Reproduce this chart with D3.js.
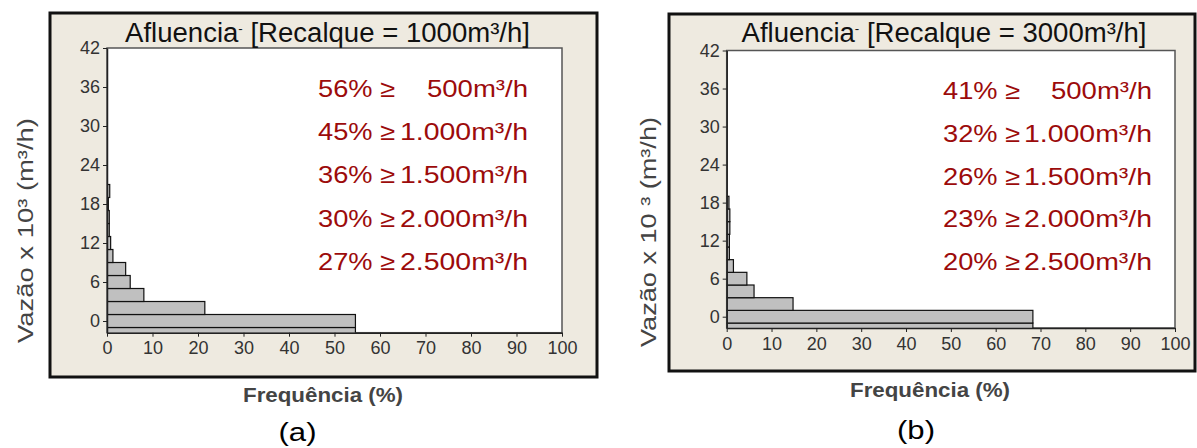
<!DOCTYPE html>
<html><head><meta charset="utf-8">
<script src="https://cdn.jsdelivr.net/npm/d3@7"></script>
<style>
html,body{margin:0;padding:0;background:#fff;}
svg{display:block;}
text{font-family:"Liberation Sans",Arial,sans-serif;}
</style></head>
<body>
<svg id="chart" width="1197" height="448"></svg>
<script>
// ---- data ----
const binCenters = [-2, 0, 2, 4, 6, 8, 10, 12, 14, 16, 18, 20];
const freqA = [54.6, 54.6, 21.5, 8.1, 5.1, 4.1, 1.3, 0.8, 0.5, 0.5, 0.3, 0.6];
const freqB = [68.3, 68.3, 14.8, 6.1, 4.5, 1.5, 0.6, 0.6, 0.7, 0.7, 0.5, 0];
const yTicks = [0, 6, 12, 18, 24, 30, 36, 42];
const xTicks = [0, 10, 20, 30, 40, 50, 60, 70, 80, 90, 100];
const titleA = "1000";
const titleB = "3000";
const pctA = ["56%", "45%", "36%", "30%", "27%"];
const pctB = ["41%", "32%", "26%", "23%", "20%"];
const thresholds = ["500m³/h", "1.000m³/h", "1.500m³/h", "2.000m³/h", "2.500m³/h"];
const yLabelA = "Vazão x 10³ (m³/h)";
const yLabelB = "Vazão x 10 ³ (m³/h)";
const xLabel = "Frequência (%)";

const svg = d3.select("#chart");
const defs = svg.append("defs");

const panels = [
  {id:"a", freq:freqA, rec:titleA, pct:pctA, ylab:yLabelA, tag:"(a)",
   box:{x:50,y:13,w:547,h:364}, px0:107, px1:562, py42:48, py0:321, pyb:332.7,
   titleX:327.5, titleY:42, titleW:405,
   annX0:318, annX1:528, annY0:96.5, annDy:43.4,
   ylabX:33, ylabY:230.5, ylabW:225, xlabX:323, xlabY:402, tagX:297.5, tagY:441},
  {id:"b", freq:freqB, rec:titleB, pct:pctB, ylab:yLabelB, tag:"(b)",
   box:{x:669,y:14,w:526,h:357}, px0:726.7, px1:1175, py42:50.5, py0:316.7, pyb:328,
   titleX:944, titleY:42, titleW:405,
   annX0:943, annX1:1152, annY0:99, annDy:42.8,
   ylabX:656, ylabY:232, ylabW:230, xlabX:930, xlabY:397, tagX:916, tagY:439}
];

panels.forEach(p => {
  const g = svg.append("g");
  g.append("rect").attr("x",p.box.x).attr("y",p.box.y).attr("width",p.box.w).attr("height",p.box.h)
    .attr("fill","#eeeae0").attr("stroke","#111").attr("stroke-width",3);

  const x = d3.scaleLinear().domain([0,100]).range([p.px0,p.px1]);
  const unit = (p.py0 - p.py42)/42;
  const yMin = -(p.pyb - p.py0)/unit;
  const y = d3.scaleLinear().domain([yMin,42]).range([p.pyb,p.py42]);

  g.append("rect").attr("x",x(0)).attr("y",y(42)).attr("width",x(100)-x(0)).attr("height",y(yMin)-y(42))
    .attr("fill","#fff").attr("stroke","#555").attr("stroke-width",1.5);

  defs.append("clipPath").attr("id","clip"+p.id).append("rect")
    .attr("x",x(0)).attr("y",y(42)).attr("width",x(100)-x(0)).attr("height",y(yMin)-y(42));

  g.append("g").attr("clip-path","url(#clip"+p.id+")")
    .selectAll("rect").data(binCenters.map((c,i)=>({c, v:p.freq[i]})).filter(d=>d.v>0))
    .join("rect")
    .attr("x",x(0)).attr("y",d=>y(d.c+1)).attr("width",d=>x(d.v)-x(0))
    .attr("height",d=>y(d.c-1)-y(d.c+1))
    .attr("fill","#c0c0c0").attr("stroke","#111").attr("stroke-width",1.2);

  const xa = g.append("g").attr("transform",`translate(0,${y(yMin)})`)
    .call(d3.axisBottom(x).tickValues(xTicks).tickSizeInner(4).tickSizeOuter(0).tickPadding(5));
  const ya = g.append("g").attr("transform",`translate(${x(0)},0)`)
    .call(d3.axisLeft(y).tickValues(yTicks).tickSizeInner(4).tickSizeOuter(0).tickPadding(3));
  [xa,ya].forEach(a=>{
    a.select(".domain").attr("stroke","#222").attr("stroke-width",1.5);
    a.selectAll(".tick line").attr("stroke","#222");
    a.selectAll(".tick text").attr("fill","#333").style("font-size","18px")
      .style("font-family","'Liberation Sans',Arial,sans-serif");
  });

  const t = g.append("text").attr("x",p.titleX).attr("y",p.titleY).attr("text-anchor","middle")
    .attr("fill","#111").style("font-size","27px")
    .attr("textLength",p.titleW).attr("lengthAdjust","spacingAndGlyphs");
  t.append("tspan").text("Afluencia");
  t.append("tspan").attr("dy",-9).style("font-size","13px").text("-");
  t.append("tspan").attr("dy",9).text(` [Recalque = ${p.rec}m³/h]`);

  p.pct.forEach((s,i)=>{
    const yy = p.annY0 + i*p.annDy;
    g.append("text").attr("x",p.annX0).attr("y",yy).attr("fill","#9c0b0b")
      .style("font-size","24px").attr("textLength",77).attr("lengthAdjust","spacingAndGlyphs")
      .text(s+" ≥");
    const w = thresholds[i].length === 7 ? 101 : 128;
    g.append("text").attr("x",p.annX1).attr("y",yy).attr("text-anchor","end").attr("fill","#9c0b0b")
      .style("font-size","24px").attr("textLength",w).attr("lengthAdjust","spacingAndGlyphs")
      .text(thresholds[i]);
  });

  g.append("text").attr("transform",`translate(${p.ylabX},${p.ylabY}) rotate(-90)`)
    .attr("text-anchor","middle").attr("fill","#444").style("font-size","22px")
    .attr("textLength",p.ylabW).attr("lengthAdjust","spacingAndGlyphs").text(p.ylab);

  g.append("text").attr("x",p.xlabX).attr("y",p.xlabY).attr("text-anchor","middle")
    .attr("fill","#444").style("font-size","20px").style("font-weight","bold")
    .attr("textLength",160).attr("lengthAdjust","spacingAndGlyphs").text(xLabel);

  g.append("text").attr("x",p.tagX).attr("y",p.tagY).attr("text-anchor","middle")
    .attr("fill","#000").style("font-size","25px")
    .attr("textLength",38).attr("lengthAdjust","spacingAndGlyphs").text(p.tag);
});
</script>
</body></html>
